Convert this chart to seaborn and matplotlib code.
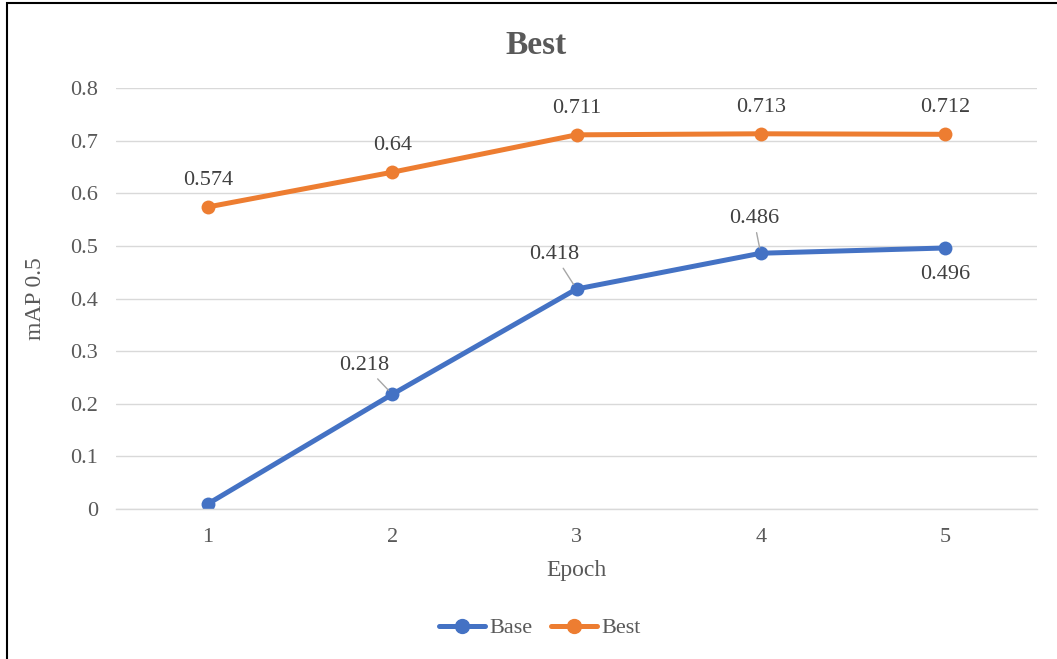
import matplotlib
matplotlib.use("Agg")
import matplotlib.pyplot as plt
from matplotlib.patches import Rectangle
import pandas as pd
import seaborn as sns

epochs = [1, 2, 3, 4, 5]
base_map = [0.01, 0.218, 0.418, 0.486, 0.496]
best_map = [0.574, 0.64, 0.711, 0.713, 0.712]
series_names = ["Base", "Best"]
y_ticks = [0, 0.1, 0.2, 0.3, 0.4, 0.5, 0.6, 0.7, 0.8]

df = pd.DataFrame({
    "Epoch": epochs * 2,
    "mAP": base_map + best_map,
    "Series": [series_names[0]] * len(epochs) + [series_names[1]] * len(epochs),
})

sns.set_theme(style="white")
plt.rcParams["font.family"] = ["Liberation Serif", "DejaVu Serif"]
text_color = "#595959"
label_color = "#404040"
palette = {"Base": "#4472C4", "Best": "#ED7D31"}

fig = plt.figure(figsize=(10.57, 6.59), dpi=100)
ax = fig.add_axes([116 / 1057, 1 - 509 / 659, (1037 - 116) / 1057, (509 - 88) / 659])

sns.lineplot(data=df, x="Epoch", y="mAP", hue="Series", palette=palette,
             marker="o", markersize=10, markeredgewidth=0, linewidth=3.6,
             ax=ax, legend=False)

ax.set_xlim(0.5, 5.5)
ax.set_ylim(0, 0.8)
ax.set_xticks(epochs)
ax.set_xticklabels([str(e) for e in epochs])
ax.set_yticks(y_ticks)
ax.set_yticklabels(["0"] + [f"{t:.1f}" for t in y_ticks[1:]])
ax.tick_params(axis="both", labelsize=16, colors=text_color, length=0)
ax.tick_params(axis="y", pad=13)
ax.tick_params(axis="x", pad=14)
ax.yaxis.grid(True, color="#D9D9D9", linewidth=1)
ax.set_axisbelow(True)
for side in ["top", "right", "left"]:
    ax.spines[side].set_visible(False)
ax.spines["bottom"].set_color("#D9D9D9")
ax.spines["bottom"].set_linewidth(1)

ax.set_xlabel("Epoch", fontsize=17, color=text_color, labelpad=9)
ax.set_ylabel("mAP 0.5", fontsize=17, color=text_color, labelpad=17)
fig.text(536 / 1057, 1 - 45 / 659, "Best", ha="center", va="center",
         fontsize=24, fontweight="bold", color=text_color)

# Value labels for the Best series sit above each point
for x, v in zip(epochs, best_map):
    ax.annotate(f"{v:g}", (x, v), xytext=(0, 19), textcoords="offset points",
                ha="center", va="center", fontsize=16, color=label_color)

# Value labels for the Base series, with leader lines where offset
base_offsets = [None, (-20, 21), (-16, 25), (-5, 25), (0, -19)]
leader = [False, True, True, True, False]
for x, v, off, lead in zip(epochs, base_map, base_offsets, leader):
    if off is None:
        continue
    props = dict(arrowstyle="-", color="#A6A6A6", lw=1, shrinkA=1, shrinkB=4) if lead else None
    ax.annotate(f"{v:g}", (x, v), xytext=off, textcoords="offset points",
                ha="center", va="center", fontsize=16, color=label_color,
                arrowprops=props)

handles = [plt.Line2D([], [], color=palette[n], marker="o", markersize=10,
                      linewidth=3.6) for n in series_names]
fig.legend(handles, series_names, loc="center", bbox_to_anchor=(540 / 1057, 1 - 628 / 659),
           ncol=2, frameon=False, fontsize=16, labelcolor=text_color,
           handlelength=2.1, handletextpad=0.2, columnspacing=0.8)

fig.patches.append(Rectangle((7 / 1057, -0.05), 1.1, 1 - 3 / 659 + 0.05,
                             transform=fig.transFigure, fill=False,
                             edgecolor="black", linewidth=1.5))

fig.savefig("out.png", dpi=100, facecolor="white")
